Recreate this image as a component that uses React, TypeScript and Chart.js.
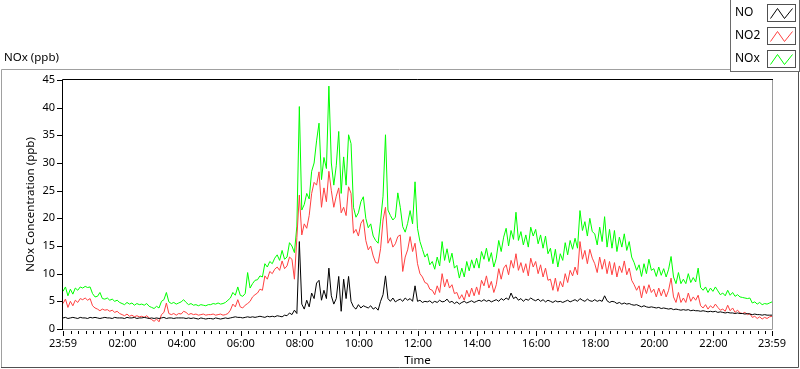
import React, { useEffect, useRef } from "react";
import { Chart, registerables } from "chart.js";

Chart.register(...registerables);

// ---- data (5-minute samples, 23:59 -> 23:59) ----
const SAMPLE_MINUTES = 5;

const NO: number[] = [
  2.0,2.1,1.9,2.0,2.1,2.0,1.9,2.1,2.0,2.0,1.9,2.1,
  2.0,2.1,2.0,1.9,2.0,2.1,2.0,2.0,1.9,2.1,2.0,2.0,
  2.0,1.9,2.1,2.0,2.0,2.1,1.9,2.0,2.0,2.1,2.0,1.9,
  2.0,1.9,2.0,1.9,2.0,2.1,1.9,2.0,2.0,1.9,2.0,2.0,
  2.0,2.0,1.9,2.0,1.9,2.0,1.9,1.8,2.0,1.9,1.8,1.9,
  1.9,1.8,2.0,1.9,1.8,1.9,2.0,1.9,2.0,2.1,2.2,2.1,
  2.1,2.0,2.1,2.2,2.1,2.2,2.1,2.2,2.3,2.2,2.1,2.3,
  2.2,2.3,2.2,2.4,2.3,2.2,2.5,2.4,2.9,2.6,3.4,2.8,
  15.8,4.5,3.6,5.2,4.0,6.5,5.5,8.3,8.8,5.2,7.0,5.5,
  11.0,6.0,4.5,5.5,9.5,3.2,9.0,5.5,9.5,5.0,4.0,3.6,
  4.4,3.8,4.2,4.0,3.8,4.2,3.6,3.9,3.4,5.0,6.2,9.6,
  5.5,5.0,5.6,4.9,5.2,5.4,5.0,5.6,5.2,5.5,5.0,7.8,
  5.0,5.2,4.8,5.0,4.9,5.1,4.7,5.0,4.8,5.2,4.9,5.0,
  5.4,4.8,5.0,4.6,4.9,4.5,4.8,5.0,4.7,4.9,5.1,4.8,
  5.0,5.2,5.0,5.3,5.0,5.2,4.9,5.1,5.3,5.0,5.5,5.2,
  5.6,5.3,6.5,5.5,5.8,5.2,5.5,5.0,5.4,5.2,5.6,5.3,
  5.1,5.4,5.0,5.3,4.9,5.2,5.0,4.8,5.1,4.9,5.0,4.8,
  5.0,5.2,4.9,5.1,5.3,5.0,5.5,5.2,5.0,5.4,5.1,5.0,
  5.3,5.0,5.2,5.0,6.0,5.1,4.8,5.0,4.9,4.6,4.8,4.5,
  4.7,4.5,4.6,4.4,4.3,4.4,4.2,4.0,4.2,4.0,3.9,4.0,
  3.9,3.8,3.9,3.7,3.8,3.7,3.6,3.7,3.5,3.6,3.5,3.4,
  3.5,3.4,3.5,3.3,3.4,3.3,3.3,3.2,3.3,3.2,3.1,3.2,
  3.1,3.2,3.0,3.1,3.0,2.9,3.0,2.9,2.9,2.8,2.9,2.8,
  2.8,2.7,2.8,2.7,2.6,2.7,2.6,2.6,2.5,2.6,2.5,2.5,2.5,
];

const NO2: number[] = [
  4.6,5.4,3.9,5.0,4.2,5.2,4.8,5.5,5.3,5.6,5.2,5.5,
  4.2,3.8,3.6,3.3,3.6,3.4,3.5,3.2,3.4,3.0,3.2,2.8,
  2.6,2.4,2.7,2.3,2.5,2.2,2.4,2.2,2.3,2.1,2.4,2.0,
  1.7,1.4,1.8,1.3,2.6,3.0,4.7,2.8,2.6,2.8,2.5,2.8,
  2.7,3.2,3.0,2.6,2.8,2.6,2.7,2.5,2.6,2.7,2.5,2.6,
  2.6,2.7,2.5,2.6,2.7,2.5,2.6,2.8,3.4,4.5,4.0,5.3,
  4.0,3.8,4.3,4.6,5.0,5.8,6.2,6.5,7.2,7.0,9.6,9.0,
  10.4,10.0,10.8,11.2,10.6,12.3,10.9,11.4,13.0,12.6,9.0,16.5,
  24.2,17.0,19.0,18.2,20.5,24.5,26.5,26.0,28.4,22.0,25.5,23.0,
  28.5,25.0,22.0,24.0,25.5,21.0,22.0,20.5,25.7,24.5,17.3,18.0,
  16.8,19.1,19.8,16.0,14.3,15.0,13.2,12.0,11.9,14.5,19.7,22.0,
  15.5,16.5,14.8,15.4,16.7,17.0,10.4,13.0,14.3,16.7,14.0,15.5,
  11.8,10.0,9.4,8.4,8.2,7.2,7.0,6.2,7.8,6.6,10.0,7.6,
  9.0,7.4,8.0,6.4,6.6,5.4,6.2,5.2,7.0,5.8,7.4,6.0,
  7.6,6.2,8.8,7.8,9.6,7.4,8.6,6.6,8.0,10.9,9.0,11.0,
  11.6,9.8,12.4,11.0,13.6,10.6,12.0,10.2,11.8,9.6,12.8,11.2,
  12.2,10.0,11.6,9.4,11.0,8.8,9.0,7.0,9.2,6.8,8.6,7.6,
  10.0,8.4,10.6,9.6,11.2,9.8,15.8,12.6,14.2,11.8,14.4,12.8,
  11.8,10.2,13.0,10.8,12.6,10.0,12.2,9.8,12.0,9.4,11.4,10.2,
  12.3,9.8,11.0,8.8,8.0,7.0,7.8,5.6,7.8,6.4,8.0,6.6,
  7.2,5.8,7.4,6.0,7.2,5.8,7.0,9.2,5.8,4.8,6.6,4.8,
  5.6,4.8,6.5,5.0,5.8,5.2,6.1,4.2,3.8,4.4,3.6,4.2,
  3.8,4.5,3.9,3.4,3.6,3.2,4.3,3.3,3.8,3.0,3.4,2.9,
  2.8,3.0,2.6,2.8,2.1,2.3,1.9,2.2,1.8,2.1,1.9,2.2,2.3,
];

const NOx: number[] = [
  6.8,7.6,6.0,7.2,6.3,7.4,7.0,7.6,7.4,7.7,7.5,7.6,
  6.4,5.8,5.9,6.6,5.5,5.4,5.6,5.2,5.4,5.0,5.2,4.8,
  4.6,4.4,4.8,4.5,4.7,4.3,4.6,4.4,4.5,4.3,4.6,4.1,
  3.9,3.7,4.1,3.8,5.0,5.3,6.6,4.9,4.6,4.8,4.5,4.7,
  4.9,5.3,4.8,4.4,4.6,4.3,4.4,4.2,4.4,4.3,4.2,4.4,
  4.4,4.6,4.5,4.7,4.5,4.6,4.8,5.2,5.6,6.6,6.1,7.6,
  6.1,5.9,6.4,10.2,7.4,8.2,8.8,8.9,9.6,9.4,11.8,11.2,
  12.2,11.8,12.8,13.4,12.4,14.2,12.6,13.0,15.6,15.0,13.8,18.6,
  40.2,21.5,22.5,24.5,23.5,28.5,30.0,34.0,37.2,27.0,31.0,29.0,
  43.9,30.0,26.0,29.5,35.7,24.5,31.1,26.0,35.1,33.5,22.0,20.2,
  21.0,23.0,23.9,20.0,18.3,19.0,16.8,16.0,15.5,19.5,24.0,35.1,
  21.5,20.5,19.7,20.2,24.6,22.0,18.5,17.5,19.1,21.4,19.0,26.6,
  18.2,15.8,14.4,13.0,13.6,11.6,12.2,10.8,13.0,11.4,15.8,12.4,
  14.5,12.0,13.7,11.0,11.5,9.2,11.0,9.4,12.2,10.5,12.5,11.0,
  12.8,11.0,14.0,12.6,14.6,12.2,13.8,11.2,12.8,16.0,14.0,16.6,
  18.2,15.0,17.8,16.2,21.1,16.0,17.6,15.2,17.0,14.8,18.4,16.8,
  18.0,15.4,17.0,14.6,16.8,13.6,14.6,11.8,14.4,11.2,13.6,12.4,
  15.6,13.4,16.0,14.4,16.4,14.6,21.4,17.8,19.4,16.8,20.0,17.6,
  17.2,15.2,18.4,15.8,20.3,14.8,18.0,14.6,17.8,14.0,16.6,14.8,
  17.2,14.2,15.8,13.0,12.0,10.6,11.6,9.5,11.8,10.0,12.6,10.6,
  10.9,9.5,11.2,9.7,10.9,9.4,10.8,13.1,9.4,8.2,10.2,8.2,
  9.0,8.2,10.0,8.4,9.3,8.5,11.0,7.5,7.0,7.6,6.6,7.4,
  6.8,7.6,6.9,6.2,6.5,6.0,7.0,6.1,6.6,5.9,6.2,5.8,
  5.7,5.6,5.5,5.6,4.7,4.9,4.5,4.8,4.4,4.6,4.5,4.7,4.9,
];

const SERIES_NAMES = ["NO", "NO2", "NOx"];
const SERIES_COLORS = ["#000000", "#ff4040", "#00ff00"];

// x axis: minutes after 23:59 of previous day
const X_MAJOR_TICKS = [0, 121, 241, 361, 481, 601, 721, 841, 961, 1081, 1201, 1321, 1440];
const X_MAJOR_LABELS = ["23:59", "02:00", "04:00", "06:00", "08:00", "10:00", "12:00", "14:00", "16:00", "18:00", "20:00", "22:00", "23:59"];
const X_MINOR_STEP = 15;
const Y_TICKS = [0, 5, 10, 15, 20, 25, 30, 35, 40, 45];

const CHART_TITLE = "NOx (ppb)";
const Y_TITLE = "NOx Concentration (ppb)";
const X_TITLE = "Time";

const FONT = '"Noto Sans", "Open Sans", sans-serif';

const decor = {
  id: "labviewDecor",
  beforeDraw(chart: any) {
    const ctx = chart.ctx;
    ctx.save();
    ctx.fillStyle = "#ffffff";
    ctx.fillRect(0, 0, chart.width, chart.height);
    ctx.restore();
  },
  afterDraw(chart: any) {
    const ctx: CanvasRenderingContext2D = chart.ctx;
    const a = chart.chartArea;
    const xs = chart.scales.x;
    const ys = chart.scales.y;
    ctx.save();

    // outer frame
    ctx.lineWidth = 1;
    ctx.strokeStyle = "#a0a0a0";
    ctx.beginPath();
    ctx.moveTo(1.5, 367.5);
    ctx.lineTo(1.5, 69.5);
    ctx.lineTo(797.5, 69.5);
    ctx.stroke();
    ctx.strokeStyle = "#505050";
    ctx.beginPath();
    ctx.moveTo(1, 367.5);
    ctx.lineTo(798.5, 367.5);
    ctx.lineTo(798.5, 69);
    ctx.stroke();

    // plot border
    ctx.strokeStyle = "#000000";
    ctx.beginPath();
    ctx.moveTo(a.left - 0.5, a.bottom + 1);
    ctx.lineTo(a.left - 0.5, a.top - 0.5);
    ctx.lineTo(a.right + 1, a.top - 0.5);
    ctx.stroke();
    ctx.strokeStyle = "#9a9a9a";
    ctx.beginPath();
    ctx.moveTo(a.left, a.bottom + 0.5);
    ctx.lineTo(a.right + 0.5, a.bottom + 0.5);
    ctx.lineTo(a.right + 0.5, a.top);
    ctx.stroke();

    // x ticks
    ctx.strokeStyle = "#000000";
    ctx.beginPath();
    for (let m = 1 + X_MINOR_STEP; m < 1440; m += X_MINOR_STEP) {
      if (X_MAJOR_TICKS.includes(m)) continue;
      const px = Math.round(xs.getPixelForValue(m)) + 0.5;
      ctx.moveTo(px, a.bottom + 2);
      ctx.lineTo(px, a.bottom + 5);
    }
    X_MAJOR_TICKS.forEach((m) => {
      const px = Math.round(xs.getPixelForValue(m)) + 0.5;
      ctx.moveTo(px, a.bottom + 2);
      ctx.lineTo(px, a.bottom + 7);
    });
    ctx.stroke();

    ctx.fillStyle = "#000000";
    ctx.font = `11px ${FONT}`;
    ctx.textAlign = "center";
    ctx.textBaseline = "middle";
    X_MAJOR_TICKS.forEach((m, i) => {
      ctx.fillText(X_MAJOR_LABELS[i], xs.getPixelForValue(m), 344);
    });

    // y ticks
    ctx.beginPath();
    Y_TICKS.forEach((v) => {
      const py = Math.round(ys.getPixelForValue(v)) + 0.5;
      ctx.moveTo(a.left - 6, py);
      ctx.lineTo(a.left - 1, py);
    });
    ctx.stroke();
    ctx.textAlign = "right";
    Y_TICKS.forEach((v) => {
      ctx.fillText(String(v), a.left - 8, ys.getPixelForValue(v));
    });

    // titles
    ctx.font = `11.5px ${FONT}`;
    ctx.textAlign = "left";
    ctx.fillText(CHART_TITLE, 4, 58);
    ctx.textAlign = "center";
    ctx.fillText(X_TITLE, (a.left + a.right) / 2, 361);
    ctx.save();
    ctx.translate(31, (a.top + a.bottom) / 2);
    ctx.rotate(-Math.PI / 2);
    ctx.fillText(Y_TITLE, 0, 0);
    ctx.restore();

    // legend
    ctx.fillStyle = "#ffffff";
    ctx.fillRect(730, 0, 70, 72);
    ctx.strokeStyle = "#6a6a6a";
    ctx.strokeRect(730.5, -0.5, 69, 72);
    SERIES_NAMES.forEach((name, i) => {
      const cy = 13 + i * 23;
      ctx.fillStyle = "#000000";
      ctx.font = `12px ${FONT}`;
      ctx.textAlign = "left";
      ctx.fillText(name, 735, cy);
      const bx = 767.5, by = cy - 8.5, bw = 28, bh = 17;
      ctx.fillStyle = "#ffffff";
      ctx.fillRect(bx, by, bw, bh);
      ctx.strokeStyle = "#505050";
      ctx.strokeRect(bx, by, bw, bh);
      ctx.strokeStyle = SERIES_COLORS[i];
      ctx.beginPath();
      ctx.moveTo(bx + 3, by + bh - 3);
      ctx.lineTo(bx + 10, by + 4);
      ctx.lineTo(bx + 17, by + bh - 3);
      ctx.lineTo(bx + 25, by + 4);
      ctx.stroke();
    });

    ctx.restore();
  },
};

export default function App() {
  const ref = useRef<HTMLCanvasElement>(null);
  useEffect(() => {
    const canvas = ref.current!;
    const minutes = NO.map((_, i) => i * SAMPLE_MINUTES);
    const pts = (vals: number[]) => vals.map((v, i) => ({ x: minutes[i], y: v }));
    const series = [NO, NO2, NOx];
    const chart = new Chart(canvas, {
      type: "line",
      data: {
        datasets: series.map((vals, i) => ({
          label: SERIES_NAMES[i],
          data: pts(vals),
          borderColor: SERIES_COLORS[i],
          backgroundColor: SERIES_COLORS[i],
          borderWidth: 1,
          pointRadius: 0,
          tension: 0,
          fill: false,
          order: i,
        })),
      },
      options: {
        animation: false,
        responsive: false,
        devicePixelRatio: 1,
        events: [],
        layout: { padding: { left: 63, top: 80, right: 28, bottom: 40 } },
        scales: {
          x: { type: "linear", min: 0, max: 1440, display: false },
          y: { type: "linear", min: 0, max: 45, display: false },
        },
        plugins: { legend: { display: false }, tooltip: { enabled: false } },
      },
      plugins: [decor],
    });
    return () => chart.destroy();
  }, []);
  return (
    <div style={{ position: "fixed", left: 0, top: 0, width: 800, height: 369, background: "#fff" }}>
      <canvas ref={ref} width={800} height={369} style={{ display: "block" }} />
    </div>
  );
}
